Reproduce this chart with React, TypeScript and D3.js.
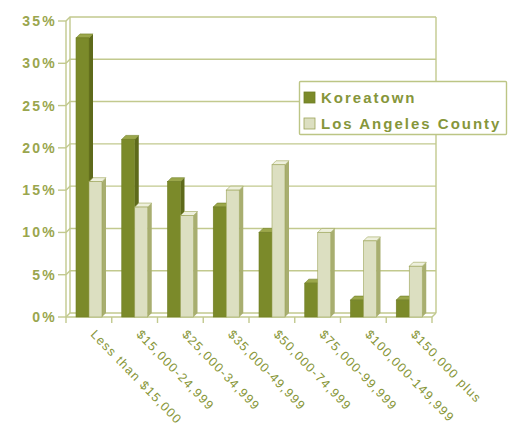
import React from "react";
import * as d3 from "d3";

const categories = [
  "Less than $15,000",
  "$15,000-24,999",
  "$25,000-34,999",
  "$35,000-49,999",
  "$50,000-74,999",
  "$75,000-99,999",
  "$100,000-149,999",
  "$150,000 plus",
];
const koreatown = [33, 21, 16, 13, 10, 4, 2, 2];
const laCounty = [16, 13, 12, 15, 18, 10, 9, 6];
const seriesNames = ["Koreatown", "Los Angeles County"];
const yTicks = [0, 5, 10, 15, 20, 25, 30, 35];

const W = 515, H = 431;
const left = 66, right = 432, top = 21, bottom = 317;
const DX = 4, DY = -4;

const styles = [
  { front: "#7b8a2a", side: "#5e6a1b", top: "#9ba74b", stroke: "#6f7d24" },
  { front: "#dcdfc1", side: "#a8ae70", top: "#eef0dd", stroke: "#9ca458" },
];
const grid = "#c2c98e";
const textCol = "#879638";

export default function App() {
  const x = d3.scaleBand<string>().domain(categories).range([left, right]);
  const xi = d3.scaleBand<string>().domain(seriesNames).range([10, 36]);
  const y = d3.scaleLinear().domain([0, 35]).range([bottom, top]);
  const bw = xi.bandwidth();
  const data = [koreatown, laCounty];

  const bar = (x0: number, v: number, s: typeof styles[0], key: string) => {
    const yt = y(v);
    const x1 = x0 + bw;
    return (
      <g key={key}>
        <polygon
          points={`${x1},${bottom} ${x1 + DX},${bottom + DY} ${x1 + DX},${yt + DY} ${x1},${yt}`}
          fill={s.side}
        />
        <polygon
          points={`${x0},${yt} ${x0 + DX},${yt + DY} ${x1 + DX},${yt + DY} ${x1},${yt}`}
          fill={s.top}
          stroke={s.stroke}
          strokeWidth={0.6}
        />
        <rect x={x0} y={yt} width={bw} height={bottom - yt} fill={s.front} stroke={s.stroke} strokeWidth={0.6} />
      </g>
    );
  };

  return (
    <svg width={W} height={H} style={{ position: "absolute", left: 0, top: 0 }} fontFamily="Liberation Sans, Arial, sans-serif">
      <rect width={W} height={H} fill="#fff" />
      {yTicks.map((t) => (
        <g key={t}>
          <polyline
            points={`${left},${y(t)} ${left + DX},${y(t) + DY} ${right + DX},${y(t) + DY}`}
            fill="none"
            stroke={grid}
            strokeWidth={1.4}
          />
          <line x1={left - 8} x2={left} y1={y(t)} y2={y(t)} stroke={grid} strokeWidth={1.4} />
          <text
            x={57}
            y={y(t)}
            dy="0.36em"
            textAnchor="end"
            fontSize={14}
            fontWeight="bold"
            letterSpacing={2.2}
            fill="#9aa64e"
          >
            {t}%
          </text>
        </g>
      ))}
      <line x1={left} x2={left} y1={top} y2={bottom} stroke={grid} strokeWidth={1.4} />
      <line x1={left + DX} x2={left + DX} y1={top + DY} y2={bottom + DY} stroke={grid} strokeWidth={1.4} />
      <line x1={right + DX} x2={right + DX} y1={top + DY} y2={bottom + DY} stroke={grid} strokeWidth={1.4} />
      <line x1={left} x2={right} y1={bottom} y2={bottom} stroke={grid} strokeWidth={1.4} />
      <line x1={right} x2={right + DX} y1={bottom} y2={bottom + DY} stroke={grid} strokeWidth={1.4} />
      {d3.range(categories.length + 1).map((i) => {
        const xx = left + i * x.step();
        return <line key={i} x1={xx} x2={xx} y1={bottom} y2={bottom + 6} stroke={grid} strokeWidth={1.4} />;
      })}
      {categories.map((c, i) => (
        <g key={c}>
          {data.map((arr, si) => bar((x(c) as number) + (xi(seriesNames[si]) as number), arr[i], styles[si], c + si))}
        </g>
      ))}
      {categories.map((c) => {
        const cx = (x(c) as number) + x.bandwidth() / 2 + 1;
        return (
          <text
            key={c}
            transform={`translate(${cx},${335}) rotate(46)`}
            fontSize={12.5}
            letterSpacing={1.3}
            fill={textCol}
          >
            {c}
          </text>
        );
      })}
      <rect x={299.5} y={81.5} width={207} height={53} fill="#fff" stroke="#bcc585" strokeWidth={1.4} rx={1} />
      {seriesNames.map((n, i) => (
        <g key={n} transform={`translate(0,${i * 26})`}>
          <rect x={304} y={92} width={11} height={11} fill={styles[i].front} stroke={styles[i].stroke} strokeWidth={0.8} />
          <text x={321} y={103} fontSize={15} fontWeight="bold" letterSpacing={2} fill="#86963a">
            {n}
          </text>
        </g>
      ))}
    </svg>
  );
}
